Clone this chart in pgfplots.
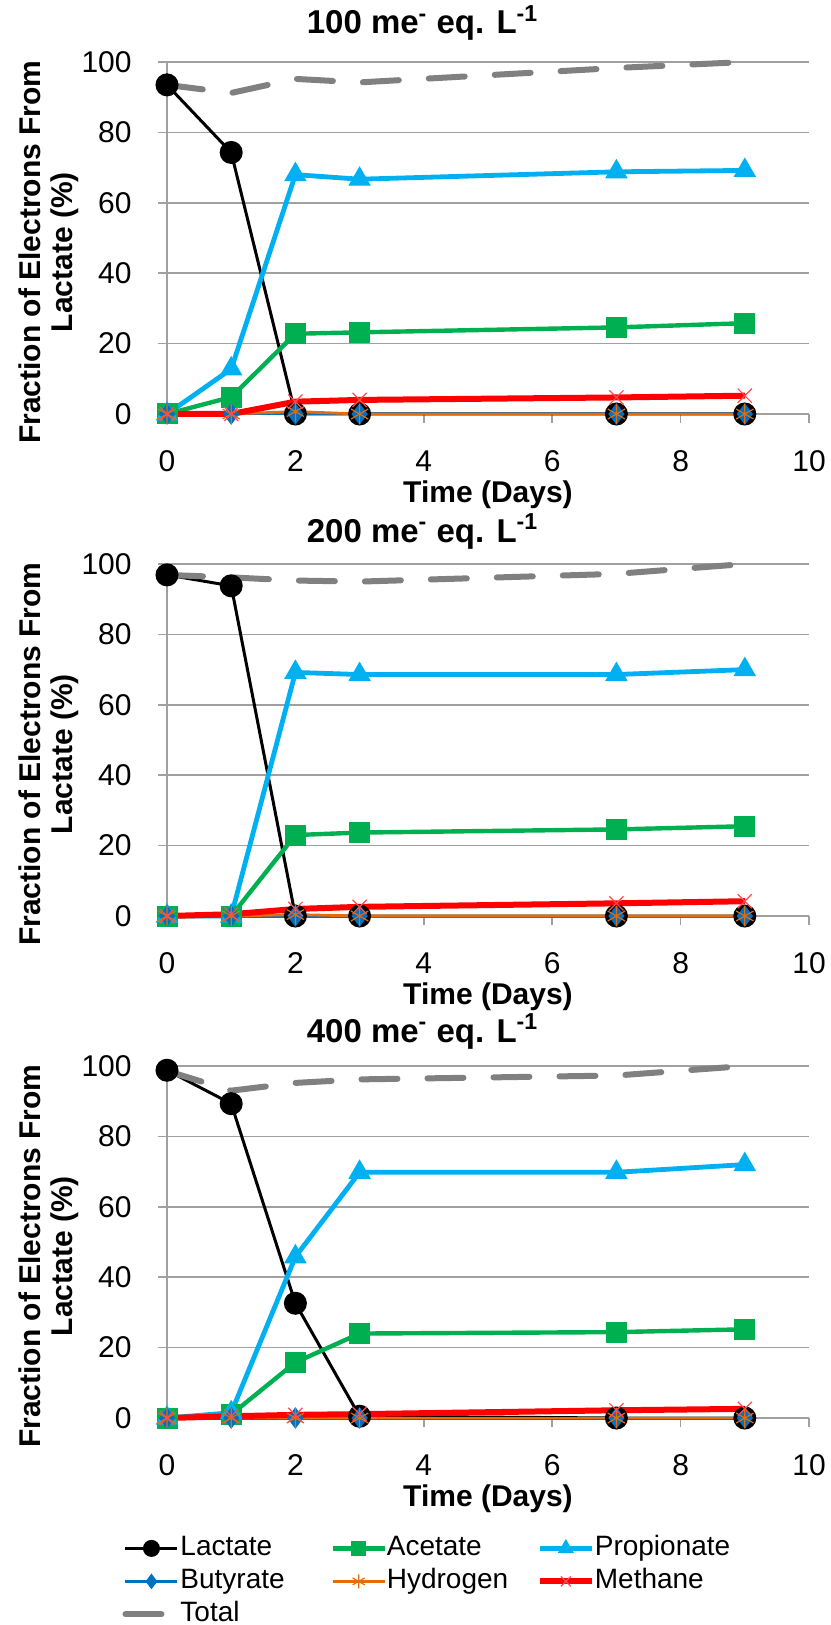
\documentclass[border=0pt]{standalone}
\usepackage{pgfplots}
\pgfplotsset{compat=1.18}
\usepackage{pgfplotstable}
\usepackage{fontspec}
\setmainfont{Liberation Sans}

\definecolor{gridgray}{RGB}{160,160,160}
\definecolor{totgray}{RGB}{128,128,128}
\definecolor{acegreen}{RGB}{0,176,80}
\definecolor{procyan}{RGB}{0,176,240}
\definecolor{butblue}{RGB}{0,112,192}
\definecolor{hydorange}{RGB}{228,108,10}
\definecolor{metred}{RGB}{255,0,0}

% Electron fractions (%) at each sampling day, one table per lactate dose
\pgfplotstableread{
day lac  ace  pro  but hyd met tot
0   93.5 0    0    0   0   0   93.5
1   74.3 4.8  12.8 0   0   0   91.2
2   0    22.8 68.0 0   0.7 3.5 95.2
3   0    23.2 66.7 0   0   4.0 94.2
7   0    24.6 68.8 0   0   4.7 98.3
9   0    25.8 69.2 0   0   5.2 100.0
}\doseA
\pgfplotstableread{
day lac  ace  pro  but hyd met tot
0   96.9 0    0    0   0   0   96.9
1   93.8 0    0    0   0   0.5 96.2
2   0    23.0 69.2 0   0.4 2.0 95.3
3   0    23.7 68.6 0   0   2.6 95.0
7   0    24.6 68.6 0   0   3.6 97.2
9   0    25.5 70.0 0   0   4.2 100.0
}\doseB
\pgfplotstableread{
day lac  ace  pro  but hyd met tot
0   98.8 0    0    0   0   0   98.6
1   89.3 1.0  1.5  0   0   0.5 93.0
2   32.6 15.8 45.8 0   0   0.9 95.2
3   0.5  24.0 69.8 0   0   1.1 96.2
7   0    24.4 69.8 0   0   2.2 97.3
9   0    25.2 72.0 0   0   2.6 100.0
}\doseC

\pgfplotsset{
  panel/.style={
    scale only axis, width=321pt, height=176pt,
    xmin=0, xmax=10, ymin=0, ymax=100,
    xtick={0,2,...,10}, ytick={0,20,...,100},
    axis lines*=left,
    axis line style={draw=gridgray, line width=0.75pt},
    tick align=outside, major tick length=4.5pt,
    tick style={draw=gridgray, line width=0.75pt},
    ymajorgrids, major grid style={draw=gridgray, line width=0.75pt},
    clip=false,
    /pgf/number format/assume math mode=true,
    ticklabel style={font=\fontsize{15}{18}\selectfont},
    xticklabel style={anchor=base, yshift=-24pt},
    yticklabel style={anchor=east, inner sep=0pt, xshift=-13pt},
    xlabel={Time (Days)},
    every axis x label/.style={at={(axis description cs:0.5,0)}, anchor=base,
      yshift=-44pt, font=\bfseries\fontsize{15}{18}\selectfont},
    ylabel={Fraction of Electrons From\\Lactate (\%)},
    every axis y label/.style={at={(axis description cs:-0.184,0.46)}, rotate=90,
      anchor=center, align=center, font=\bfseries\fontsize{15}{16}\selectfont},
    every axis title/.style={at={(axis description cs:0.398,1)}, anchor=base,
      font=\bfseries\fontsize{16.5}{19}\selectfont},
    legend image code/.code={%
      \draw[mark repeat=2, mark phase=2, #1, every mark/.append style={scale=0.7}]
        plot coordinates {(0pt,0pt) (13pt,0pt) (26pt,0pt)};},
  },
  lac/.style={black, line width=1.5pt, mark=*, mark size=5pt},
  ace/.style={acegreen, line width=2.2pt, mark=square*, mark size=5pt,
    mark options={line width=0.5pt}},
  pro/.style={procyan, line width=2.4pt, mark=triangle*, mark size=6pt,
    mark options={line width=0.5pt}},
  but/.style={butblue, line width=1.5pt, mark=diamond*, mark size=5pt,
    mark options={line width=0.5pt}},
  hyd/.style={hydorange, line width=1.4pt, mark=asterisk, mark size=5pt,
    mark options={line width=0.6pt}},
  met/.style={metred, line width=3pt, mark=x, mark size=5pt,
    mark options={line width=0.6pt, draw=metred!70}},
  tot/.style={totgray, line width=3pt, dash pattern=on 18pt off 15pt, line cap=round},
}

\newcommand{\species}[1]{%
  \addplot[lac] table[x=day, y=lac] {#1};
  \addplot[ace] table[x=day, y=ace] {#1};
  \addplot[pro] table[x=day, y=pro] {#1};
  \addplot[but] table[x=day, y=but] {#1};
  \addplot[hyd] table[x=day, y=hyd] {#1};
  \addplot[met] table[x=day, y=met] {#1};
  \addplot[tot] table[x=day, y=tot] {#1};
}

\begin{document}
\begin{tikzpicture}
\useasboundingbox (0,0) rectangle (415pt,-812.5pt);

\begin{axis}[panel, at={(83.5pt,-207pt)}, anchor=south west,
  title={100 me\textsuperscript{-} eq. L\textsuperscript{-1}},
  title style={yshift=14pt}]
  \species{\doseA}
\end{axis}

\begin{axis}[panel, at={(83.5pt,-458pt)}, anchor=south west,
  title={200 me\textsuperscript{-} eq. L\textsuperscript{-1}},
  title style={yshift=11pt}]
  \species{\doseB}
\end{axis}

\begin{axis}[panel, at={(83.5pt,-709pt)}, anchor=south west,
  title={400 me\textsuperscript{-} eq. L\textsuperscript{-1}},
  title style={yshift=12pt},
  legend columns=3, legend cell align=left,
  legend style={at={(axis description cs:-0.07,-0.3295)}, anchor=north west,
    draw=none, fill=none, inner sep=0pt, row sep=2.5pt,
    font=\fontsize{14}{16}\selectfont,
    nodes={inner sep=0pt, text height=10.5pt, text depth=3.5pt},
    /tikz/every odd column/.append style={column sep=0pt},
    /tikz/every even column/.append style={column sep=0pt}}]
  \species{\doseC}
  \legend{\makebox[75pt][l]{Lactate}, \makebox[75pt][l]{Acetate}, Propionate,
          \makebox[75pt][l]{Butyrate}, \makebox[75pt][l]{Hydrogen}, Methane,
          \makebox[75pt][l]{Total}}
\end{axis}
\end{tikzpicture}
\end{document}
